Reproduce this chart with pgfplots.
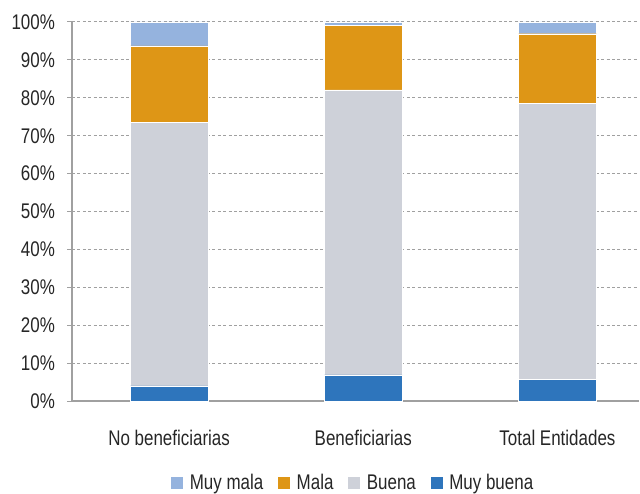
\documentclass[border=0pt]{standalone}
\usepackage{fontspec}
\setmainfont{Liberation Sans}[FakeStretch=0.8]
\usepackage{pgfplots}
\pgfplotsset{compat=1.18}
\definecolor{muymala}{HTML}{95B3DE}
\definecolor{mala}{HTML}{DE9616}
\definecolor{buena}{HTML}{CED1D9}
\definecolor{muybuena}{HTML}{2E75BC}
\definecolor{txt}{HTML}{262626}
\definecolor{axgray}{HTML}{A0A0A0}
\begin{document}
\begin{tikzpicture}
\useasboundingbox (0,0) rectangle (320pt,246.5pt);
\begin{axis}[
  at={(36pt,46pt)}, anchor=south west,
  scale only axis,
  width=283.5pt, height=189.5pt,
  ybar stacked,
  bar width=0.4,
  xmin=-0.5, xmax=2.42,
  ymin=0, ymax=100,
  xtick={0,1,2},
  xticklabels={No beneficiarias, Beneficiarias, Total Entidades},
  extra x ticks={0.5,1.5},
  extra x tick labels={},
  extra x tick style={major tick length=4pt, tick style={axgray, line width=0.6pt}, tick align=outside},
  major x tick style={draw=none},
  ytick={0,10,...,100},
  yticklabel={\pgfmathprintnumber{\tick}\%},
  /pgf/number format/assume math mode=true,
  ymajorgrids,
  major grid style={axgray, dash pattern=on 1.5pt off 1.2pt, line width=0.5pt},
  axis x line*=bottom,
  axis y line*=left,
  axis line style={axgray, line width=0.6pt, -},
  y tick style={axgray, line width=0.5pt},
  tick align=outside,
  major tick length=2.5pt,
  tick label style={font=\fontsize{10.6}{12}\selectfont, text=txt},
  yticklabel style={xshift=-2.5pt},
  xticklabel style={yshift=-8.5pt},
  legend style={at={(0.497,-0.216)}, anchor=center, draw=none, legend columns=4,
    font=\fontsize{10.6}{12}\selectfont, text=txt,
    /tikz/every odd column/.append style={column sep=1pt},
    /tikz/every even column/.append style={column sep=5pt}},
  legend image code/.code={\fill[#1] (0pt,-3pt) rectangle (6.5pt,3.5pt);},
  reverse legend,
  clip=false,
]
\addplot[fill=muybuena, draw=white, line width=0.2pt] coordinates {(0,4.0) (1,6.9) (2,5.7)};
\addplot[fill=buena, draw=white, line width=0.2pt] coordinates {(0,69.6) (1,75.2) (2,72.8)};
\addplot[fill=mala, draw=white, line width=0.2pt] coordinates {(0,20.1) (1,17.1) (2,18.4)};
\addplot[fill=muymala, draw=white, line width=0.2pt] coordinates {(0,6.3) (1,0.8) (2,3.1)};
\legend{Muy buena\strut, Buena\strut, Mala\strut, Muy mala\strut}
\end{axis}
\end{tikzpicture}
\end{document}
